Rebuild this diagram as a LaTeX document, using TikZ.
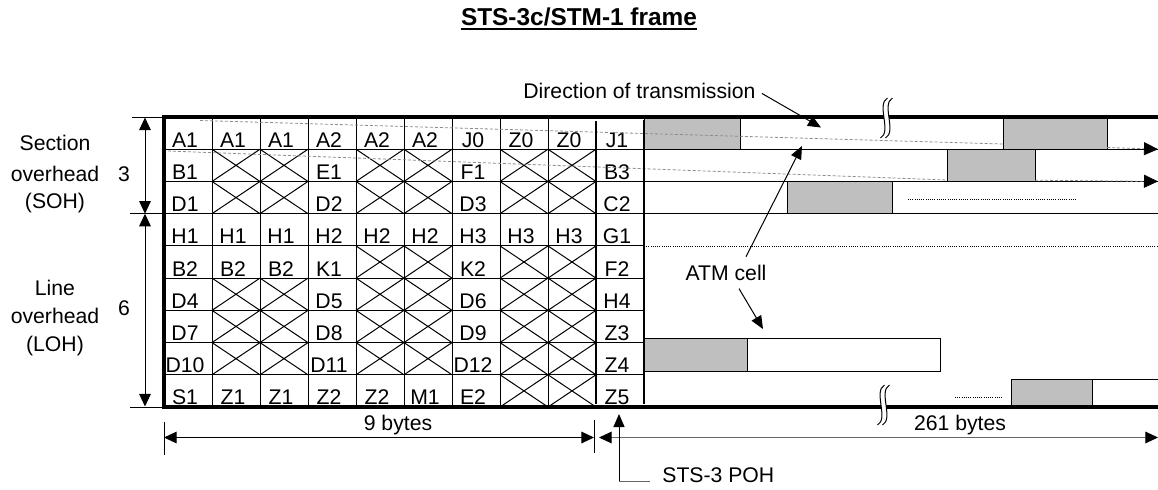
\documentclass[tikz,border=0pt]{standalone}
\usepackage{fontspec}
\setmainfont{Liberation Sans}
\usepackage{ifthen}
\usetikzlibrary{arrows.meta}
\definecolor{cellgray}{gray}{0.75}
\begin{document}
\begin{tikzpicture}[x=0.5pt,y=-0.5pt,
  font=\fontsize{10.6}{12.7}\selectfont,
  thinline/.style={line width=0.5pt},
  framelw/.style={line width=1.6pt},
  bar/.style={line width=1.4pt},
  hdr/.style={fill=cellgray,draw=black,line width=0.5pt},
  lbl/.style={anchor=base,inner sep=0pt},
  trans/.style={black!45,line width=0.4pt,dash pattern=on 1.5pt off 1pt},
  dots/.style={line width=0.4pt,dash pattern=on 0.5pt off 0.6pt},
  tipA/.style={line width=0.5pt,-{Triangle[length=6.5pt,width=5.5pt]}},
  dimarrow/.style={line width=0.5pt,{Triangle[length=6.3pt,width=5.8pt]}-{Triangle[length=6.3pt,width=5.8pt]}},
]
\useasboundingbox (0,0) rectangle (1158,489);

% title
\node[lbl,font=\bfseries\fontsize{12.2}{14}\selectfont] (title) at (579,25) {STS-3c/STM-1 frame};
\draw[line width=1pt] ([yshift=-1.8pt]title.base west) -- ([yshift=-1.8pt]title.base east);

% grid lines
\foreach \i in {1,...,8} \draw[thinline] ({164+48*\i},117) -- ({164+48*\i},407);
\foreach \j in {1,...,8} \draw[thinline] (164,{117+32.222*\j}) -- (644,{117+32.222*\j});

% payload row lines
\draw[thinline] (644,149.2) -- (1158,149.2) (644,181.4) -- (1158,181.4) (644,213.7) -- (1158,213.7);
\draw[dots] (644,245.9) -- (1158,245.9);

% overhead bytes
\foreach \rr/\rowlist in {
 0/{A1,A1,A1,A2,A2,A2,J0,Z0,Z0,J1},
 1/{B1,X,X,E1,X,X,F1,X,X,B3},
 2/{D1,X,X,D2,X,X,D3,X,X,C2},
 3/{H1,H1,H1,H2,H2,H2,H3,H3,H3,G1},
 4/{B2,B2,B2,K1,X,X,K2,X,X,F2},
 5/{D4,X,X,D5,X,X,D6,X,X,H4},
 6/{D7,X,X,D8,X,X,D9,X,X,Z3},
 7/{D10,X,X,D11,X,X,D12,X,X,Z4},
 8/{S1,Z1,Z1,Z2,Z2,M1,E2,X,X,Z5}}{
 \foreach \txt [count=\cc from 0] in \rowlist {
   \ifthenelse{\equal{\txt}{X}}{
     \draw[thinline] ({164+48*\cc},{117+32.222*\rr}) -- ({212+48*\cc},{149.222+32.222*\rr})
        ({164+48*\cc},{149.222+32.222*\rr}) -- ({212+48*\cc},{117+32.222*\rr});
   }{
     \node[lbl] (cell-\rr-\cc) at ({185+48*\cc},{147.2+32.222*\rr}) {\txt};
   }
 }
}

% ATM cells in payload
\draw[hdr] (644,117) rectangle (740,149.2);
\draw[hdr] (1003,117) rectangle (1107,149.2);
\draw[hdr] (947,149.2) rectangle (1035,181.4);
\draw[hdr] (787,181.4) rectangle (892,213.7);
\draw[thinline] (644,338) rectangle (940,371);
\draw[hdr] (644,338) rectangle (747,371);
\draw[thinline] (1011,379) -- (1158,379);
\draw[hdr] (1011,379) rectangle (1092,407);
\draw[dots] (908,199) -- (1076,199);
\draw[dots] (955,397) -- (1002,397);

% transmission order
\draw[trans] (200,120.5) -- (1003,144);
\draw[trans,-{Triangle[length=7pt,width=6.5pt,color=black]}] (1107,147.5) -- (1158,149.2);
\draw[trans] (168,151) -- (947,180);
\draw[trans,-{Triangle[length=7pt,width=6.5pt,color=black]}] (1035,180.2) -- (1158,181.4);

% frame
\draw[framelw] (1158,117) -- (164,117) -- (164,407) -- (1158,407);
\draw[bar] (596,121) -- (596,404);
\draw[bar] (644,120) -- (644,404);

% break marks
\foreach \sx/\sy in {886.5/118, 883.5/405}{
  \fill[white] (\sx+1,\sy-20) .. controls (\sx-10.5,\sy-14) and (\sx+5.5,\sy+14) .. (\sx-6,\sy+20) -- (\sx-1,\sy+20) .. controls (\sx+10.5,\sy+14) and (\sx-5.5,\sy-14) .. (\sx+6,\sy-20) -- cycle;
  \draw[thinline] (\sx+1,\sy-20) .. controls (\sx-10.5,\sy-14) and (\sx+5.5,\sy+14) .. (\sx-6,\sy+20);
  \draw[thinline] (\sx+6,\sy-20) .. controls (\sx-5.5,\sy-14) and (\sx+10.5,\sy+14) .. (\sx-1,\sy+20);
}

% left labels and dimensions
\node[lbl] (sec1) at (55,150) {Section};
\node[lbl] (sec2) at (55,181) {overhead};
\node[lbl] (sec3) at (55,208.5) {(SOH)};
\node[lbl] (n3) at (124,181.7) {3};
\node[lbl] (lin1) at (55,295) {Line};
\node[lbl] (lin2) at (55,323) {overhead};
\node[lbl] (lin3) at (55,351) {(LOH)};
\node[lbl] (n6) at (124,315) {6};
\draw[thinline] (132,117) -- (164,117) (130,213.7) -- (164,213.7) (130,407) -- (164,407);
\draw[dimarrow] (145,117.5) -- (145,213.7);
\draw[dimarrow] (145,213.7) -- (145,406.5);

% bottom dimensions
\draw[thinline] (164,422) -- (164,455) (594,420) -- (594,453);
\draw[dimarrow] (164,437.5) -- (594,437.5);
\draw[line width=0.5pt,black!60,{Triangle[length=6.3pt,width=5.8pt,color=black]}-{Triangle[length=6.3pt,width=5.8pt,color=black]}] (599,437.5) -- (1158,437.5);
\node[lbl] (nine) at (398,430) {9 bytes};
\node[lbl] (twosixone) at (960,430) {261 bytes};

% STS-3 POH
\node[lbl,anchor=base west] (poh) at (662,482) {STS-3 POH};
\coordinate (pohtip) at (619,414);
\coordinate (pohcorner) at (619,481.5);
\draw[tipA] (pohcorner) -- (pohtip);
\draw[thinline,black!60] (pohcorner) -- ([xshift=-6pt,yshift=0.25pt]poh.base west);

% direction of transmission
\node[lbl,anchor=base west] (dir) at (523,98) {Direction of transmission};
\coordinate (dirtip) at (821,127.5);
\draw[tipA] ([xshift=3pt,yshift=-1.5pt]dir.east) -- (dirtip);

% ATM cell label
\node[lbl] (atm) at (726,280) {ATM cell};
\coordinate (atmtip1) at (802,146);
\coordinate (atmtip2) at (763,329);
\draw[tipA] ([shift={(20,-7.5)}]atm.north) -- (atmtip1);
\draw[tipA] ([shift={(13,8)}]atm.south) -- (atmtip2);
\end{tikzpicture}
\end{document}
